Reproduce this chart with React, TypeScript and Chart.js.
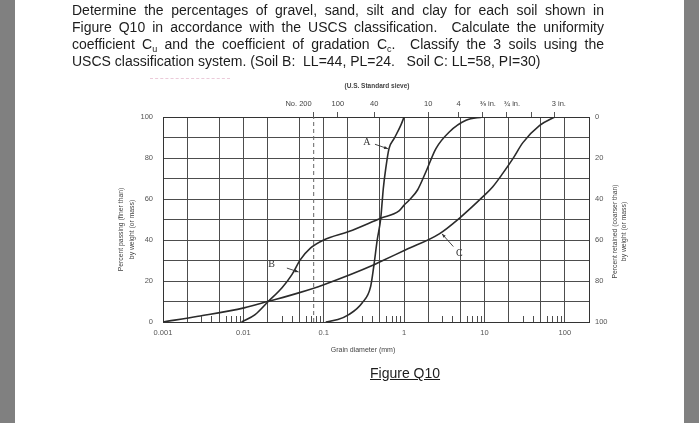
import React, { useEffect, useRef } from 'react';
import { Chart, registerables } from 'chart.js';

Chart.register(...registerables);

// ---- axis data ----
const gridSizes = [0.001, 0.002, 0.005, 0.01, 0.02, 0.05, 0.1, 0.2, 0.5, 1, 2, 5, 10, 20, 50, 100];
const decadeValues = [0.001, 0.01, 0.1, 1, 10, 100];
const decadeLabels = ['0.001', '0.01', '0.1', '1', '10', '100'];
const minorSizes = [
  0.003, 0.004, 0.006, 0.007, 0.008, 0.009,
  0.03, 0.04, 0.06, 0.07, 0.08, 0.09,
  0.3, 0.4, 0.6, 0.7, 0.8, 0.9,
  3, 4, 6, 7, 8, 9,
  30, 40, 60, 70, 80, 90,
];
const sieveSizes = [0.075, 0.15, 0.425, 2, 4.75, 9.5, 19, 38, 75];
const sieveNames = ['No. 200', '100', '40', '10', '4', '⅜ in.', '¾ in.', '', '3 in.'];
const percentLabels = [0, 20, 40, 60, 80, 100];

// ---- soil curves (grain diameter mm, percent finer) ----
const soilA_size = [0.106, 0.15, 0.205, 0.3, 0.384, 0.422, 0.463, 0.512, 0.536, 0.551, 0.591, 0.649, 0.75, 0.909, 1.0];
const soilA_pass = [0, 1.2, 3.6, 9.3, 17.4, 27.9, 40, 50.5, 59.5, 65, 74.8, 84.6, 89.4, 95.9, 100];

const soilB_size = [0.0095, 0.014, 0.0205, 0.0301, 0.0402, 0.051, 0.0683, 0.1, 0.205, 0.512, 0.866, 1.0, 1.16, 1.47, 1.87, 2.49, 3.65, 5.9, 9.5];
const soilB_pass = [0, 3.6, 10.1, 16.6, 23.1, 30.3, 36, 40, 44.1, 50.6, 54.2, 57, 59.5, 64.4, 73.3, 84.6, 92.7, 98.4, 100];

const soilC_size = [0.001, 0.00274, 0.0102, 0.0205, 0.0487, 0.1, 0.422, 0.512, 1.05, 2.74, 4.87, 9.5, 12.7, 16.9, 22.6, 30.1, 48.7, 75];
const soilC_pass = [0, 2.8, 6.9, 10.1, 14.2, 18.2, 27.9, 29.5, 35.2, 43, 50.6, 61, 66, 72.5, 79.7, 87.5, 95.9, 100];

const no200_size = [0.075, 0.075];
const no200_pass = [0, 100];

// annotation anchors (data coordinates)
const curveLabels = [
  { text: 'A', at: [0.345, 87.6], from: [0.434, 86.7], to: [0.631, 84.5] },
  { text: 'B', at: [0.0224, 27.9], from: [0.0348, 26.3], to: [0.0487, 24.4] },
  { text: 'C', at: [4.87, 33.3], from: [4.1, 36.8], to: [2.96, 43.0] },
];

const SANS = '"Liberation Sans", Arial, Helvetica, sans-serif';
const SERIF = '"Liberation Serif", "Times New Roman", serif';
const INK = '#333';
const GRID = '#4d4d4d';
const LABEL = '#555';

const pts = (xs: number[], ys: number[]) => xs.map((x, i) => ({ x, y: ys[i] }));

const overlayPlugin = {
  id: 'overlay',
  afterDatasetsDraw(chart: any) {
    const ctx = chart.ctx as CanvasRenderingContext2D;
    const xs = chart.scales.x;
    const xt = chart.scales.xTop;
    const ys = chart.scales.y;
    const { left, right, top, bottom } = chart.chartArea;
    ctx.save();

    // minor ticks at the bottom, pointing inward
    ctx.strokeStyle = GRID;
    ctx.lineWidth = 1;
    minorSizes.forEach((v) => {
      const px = Math.round(xs.getPixelForValue(v)) + 0.5;
      ctx.beginPath();
      ctx.moveTo(px, bottom);
      ctx.lineTo(px, bottom - 6);
      ctx.stroke();
    });

    // sieve labels
    ctx.fillStyle = '#444';
    ctx.font = `7.5px ${SANS}`;
    ctx.textBaseline = 'middle';
    sieveSizes.forEach((v, i) => {
      const name = sieveNames[i];
      if (!name) return;
      const px = xt.getPixelForValue(v);
      if (name.startsWith('No.')) {
        ctx.textAlign = 'right';
        ctx.fillText(name, px - 2, top - 13);
      } else if (name.includes('in.')) {
        ctx.textAlign = 'left';
        ctx.fillText(name, px - 3, top - 13);
      } else {
        ctx.textAlign = 'center';
        ctx.fillText(name, px, top - 13);
      }
    });

    ctx.textAlign = 'center';
    ctx.font = `bold 6.5px ${SANS}`;
    ctx.fillText('(U.S. Standard sieve)', (left + right) / 2 + 1, top - 31);

    // bottom title
    ctx.font = `7px ${SANS}`;
    ctx.fillText('Grain diameter (mm)', (left + right) / 2 - 13, bottom + 28);

    // left title
    const midY = (top + bottom) / 2 + 10;
    ctx.save();
    ctx.translate(left - 42, midY);
    ctx.rotate(-Math.PI / 2);
    ctx.font = `6.8px ${SANS}`;
    ctx.fillText('Percent passing (finer than)', 0, 0);
    ctx.fillText('by weight (or mass)', 0, 11);
    ctx.restore();

    // right title
    ctx.save();
    ctx.translate(right + 26, midY + 2);
    ctx.rotate(-Math.PI / 2);
    ctx.font = `6.8px ${SANS}`;
    ctx.fillText('Percent retained (coarser than)', 0, 0);
    ctx.fillText('by weight (or mass)', 0, 9);
    ctx.restore();

    // curve labels with arrows
    curveLabels.forEach((c) => {
      const lx = xs.getPixelForValue(c.at[0]);
      const ly = ys.getPixelForValue(c.at[1]);
      ctx.fillStyle = INK;
      ctx.font = `10px ${SERIF}`;
      ctx.textAlign = 'center';
      ctx.textBaseline = 'middle';
      ctx.fillText(c.text, lx, ly);
      const x1 = xs.getPixelForValue(c.from[0]);
      const y1 = ys.getPixelForValue(c.from[1]);
      const x2 = xs.getPixelForValue(c.to[0]);
      const y2 = ys.getPixelForValue(c.to[1]);
      ctx.strokeStyle = INK;
      ctx.lineWidth = 0.9;
      ctx.beginPath();
      ctx.moveTo(x1, y1);
      ctx.lineTo(x2, y2);
      ctx.stroke();
      const ang = Math.atan2(y2 - y1, x2 - x1);
      ctx.beginPath();
      ctx.moveTo(x2, y2);
      ctx.lineTo(x2 - 4 * Math.cos(ang) + 1.5 * Math.sin(ang), y2 - 4 * Math.sin(ang) - 1.5 * Math.cos(ang));
      ctx.lineTo(x2 - 4 * Math.cos(ang) - 1.5 * Math.sin(ang), y2 - 4 * Math.sin(ang) + 1.5 * Math.cos(ang));
      ctx.closePath();
      ctx.fill();
    });

    ctx.restore();
  },
};

function GradationChart() {
  const ref = useRef<HTMLCanvasElement | null>(null);
  useEffect(() => {
    if (!ref.current) return;
    const curve = (data: any[]) => ({
      data,
      borderColor: '#2b2b2b',
      borderWidth: 1.6,
      pointRadius: 0,
      cubicInterpolationMode: 'monotone' as const,
      fill: false,
      xAxisID: 'x',
      yAxisID: 'y',
    });
    const chart = new Chart(ref.current, {
      type: 'line',
      data: {
        datasets: [
          {
            data: pts(no200_size, no200_pass),
            borderColor: '#666',
            borderWidth: 1,
            borderDash: [4, 3],
            pointRadius: 0,
            tension: 0,
            xAxisID: 'x',
            yAxisID: 'y',
          },
          curve(pts(soilA_size, soilA_pass)),
          curve(pts(soilB_size, soilB_pass)),
          curve(pts(soilC_size, soilC_pass)),
        ],
      },
      options: {
        animation: false,
        responsive: false,
        devicePixelRatio: 1,
        layout: { padding: 0 },
        plugins: { legend: { display: false }, title: { display: false }, tooltip: { enabled: false } },
        scales: {
          x: {
            type: 'logarithmic',
            position: 'bottom',
            min: 0.001,
            max: 200,
            afterBuildTicks: (s: any) => {
              s.ticks = gridSizes.map((v) => ({ value: v }));
            },
            afterFit: (s: any) => {
              s.height = 101;
            },
            ticks: {
              autoSkip: false,
              maxRotation: 0,
              padding: 6,
              color: LABEL,
              font: { size: 7.5, family: SANS },
              callback: (v: any) => {
                const i = decadeValues.indexOf(Number(v));
                return i >= 0 ? decadeLabels[i] : '';
              },
            },
            grid: { color: GRID, lineWidth: 1, drawTicks: false },
            border: { display: true, color: INK, width: 1 },
          },
          xTop: {
            type: 'logarithmic',
            position: 'top',
            min: 0.001,
            max: 200,
            afterBuildTicks: (s: any) => {
              s.ticks = sieveSizes.map((v) => ({ value: v }));
            },
            afterFit: (s: any) => {
              s.height = 117;
            },
            ticks: { display: false, autoSkip: false },
            grid: { drawOnChartArea: false, drawTicks: true, tickLength: 5, tickColor: '#555', color: '#555' },
            border: { display: true, color: INK, width: 1 },
          },
          y: {
            position: 'left',
            min: 0,
            max: 100,
            afterFit: (s: any) => {
              s.width = 163;
            },
            ticks: {
              stepSize: 10,
              padding: 10,
              color: LABEL,
              font: { size: 7.5, family: SANS },
              callback: (v: any) => (percentLabels.includes(Number(v)) ? String(v) : ''),
            },
            grid: { color: GRID, lineWidth: 1, drawTicks: false },
            border: { display: true, color: INK, width: 1 },
          },
          y2: {
            position: 'right',
            min: 0,
            max: 100,
            reverse: true,
            afterFit: (s: any) => {
              s.width = 111;
            },
            ticks: {
              stepSize: 10,
              padding: 6,
              color: LABEL,
              font: { size: 7.5, family: SANS },
              callback: (v: any) => (percentLabels.includes(Number(v)) ? String(v) : ''),
            },
            grid: { drawOnChartArea: false, drawTicks: false },
            border: { display: true, color: INK, width: 1 },
          },
        },
      },
      plugins: [overlayPlugin],
    });
    return () => chart.destroy();
  }, []);
  return <canvas ref={ref} width={700} height={423} style={{ position: 'absolute', left: 0, top: 0, display: 'block' }} />;
}

const sub = { fontSize: '9px', verticalAlign: '-3px', lineHeight: 0 } as React.CSSProperties;
const just = { textAlign: 'justify', textAlignLast: 'justify', whiteSpace: 'normal' } as React.CSSProperties;

export default function App() {
  return (
    <div style={{ position: 'fixed', left: 0, top: 0, width: 700, height: 423, background: '#fff', overflow: 'hidden' }}>
      <GradationChart />
      <div style={{ position: 'absolute', left: 0, top: 0, width: 15, height: 423, background: '#808080' }} />
      <div style={{ position: 'absolute', left: 684, top: 0, width: 15, height: 423, background: '#808080' }} />
      <div
        style={{
          position: 'absolute',
          left: 150,
          top: 78,
          width: 80,
          borderTop: '1px dashed rgba(215,150,180,0.5)',
        }}
      />
      <div
        style={{
          position: 'absolute',
          left: 72,
          top: 2,
          width: 532,
          font: `14px ${SANS}`,
          lineHeight: '17px',
          color: '#1c1c1c',
        }}
      >
        <div style={just}>Determine the percentages of gravel, sand, silt and clay for each soil shown in</div>
        <div style={just}>Figure Q10 in accordance with the USCS classification.&nbsp; Calculate the uniformity</div>
        <div style={just}>
          coefficient C<sub style={sub}>u</sub> and the coefficient of gradation C<sub style={sub}>c</sub>.&nbsp; Classify the 3 soils using the
        </div>
        <div>USCS classification system. (Soil B:&nbsp; LL=44, PL=24.&nbsp;&nbsp; Soil C: LL=58, PI=30)</div>
      </div>
      <div
        style={{
          position: 'absolute',
          left: 370,
          top: 365,
          font: `14px ${SANS}`,
          color: '#1c1c1c',
          textDecoration: 'underline',
          whiteSpace: 'nowrap',
        }}
      >
        Figure Q10
      </div>
    </div>
  );
}
